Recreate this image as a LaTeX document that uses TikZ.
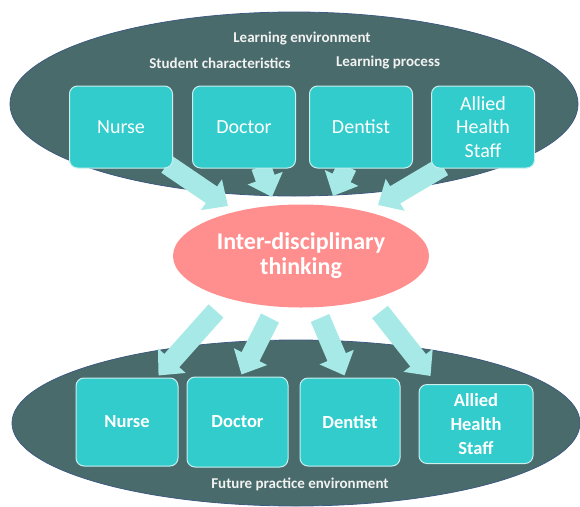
\documentclass[tikz,border=0pt]{standalone}
\usepackage{fontspec}
\setmainfont{Carlito}
\usepackage{xcolor}
\usepackage{tikz}
\usetikzlibrary{shapes,arrows.meta,positioning}

\definecolor{envgray}{HTML}{4A6B6B}
\definecolor{envedge}{HTML}{3D5A80}
\definecolor{boxcyan}{HTML}{33CCCC}
\definecolor{boxedge}{HTML}{C9EFEF}
\definecolor{flowcyan}{HTML}{A6E9E6}
\definecolor{thinkpink}{HTML}{FF8F8F}

\pgfdeclarelayer{backdrop}
\pgfdeclarelayer{flows}
\pgfsetlayers{backdrop,flows,main}

\begin{document}
\begin{tikzpicture}[x=1pt, y=-1pt,
    env/.style={draw=envedge, line width=0.8pt, fill=envgray, ellipse, inner sep=0pt},
    envlabel/.style={text=white!95!black, font=\fontsize{15}{18}\selectfont\bfseries},
    role/.style={draw=boxedge, line width=1pt, fill=boxcyan, rounded corners=8pt, text=white, align=center,
        minimum width=103pt, minimum height=82pt, inner sep=2pt, font=\fontsize{20}{23.5}\selectfont},
    rolebold/.style={role, font=\fontsize{18.5}{24}\selectfont\bfseries},
    flow/.style={draw=flowcyan, line width=20pt, -{Triangle[width=36pt,length=20pt]}}]
    \useasboundingbox (0,0) rectangle (580,506);

    % the two environments
    \begin{pgfonlayer}{backdrop}
        \node [env, minimum width=568pt, minimum height=184pt] (learnenv) at (294,104) {};
        \node [env, minimum width=568pt, minimum height=166pt] (practenv) at (296,423) {};
    \end{pgfonlayer}
    \node [envlabel] (learnlbl) at (302,39) {Learning environment};
    \node [envlabel] (studlbl) at (220,63) {Student characteristics};
    \node [envlabel] (proclbl) at (388,63) {Learning process};
    \node [envlabel] (practlbl) at (300,484) {Future practice environment};

    % professions while learning
    \node [role] (nurse1) at (121,127) {Nurse};
    \node [role, right=19pt of nurse1] (doc1) {Doctor};
    \node [role, right=13pt of doc1] (dent1) {Dentist};
    \node [role, right=18pt of dent1] (allied1) {Allied\\Health\\Staff};

    % centre
    \node [ellipse, fill=thinkpink, text=white, align=center, inner sep=0pt,
        minimum width=256pt, minimum height=103pt,
        font=\fontsize{24}{25}\selectfont\bfseries] (think) at (301,256) {Inter-disciplinary\\thinking};

    % professions in practice
    \node [rolebold, minimum width=102pt, minimum height=88pt] (nurse2) at (127,422) {Nurse};
    \node [rolebold, minimum width=101pt, minimum height=90pt, right=8pt of nurse2] (doc2) {Doctor};
    \node [rolebold, minimum width=100pt, minimum height=88pt, right=11pt of doc2] (dent2) {Dentist};
    \node [rolebold, minimum width=114pt, minimum height=79pt, right=18pt of dent2, yshift=-2pt] (allied2) {Allied\\Health\\Staff};

    \begin{pgfonlayer}{flows}
        \draw [flow] ([shift={(-6,-4)}]nurse1.south east) -- ([shift={(-73,-50)}]think.center);
        \draw [flow] ([shift={(17,-2)}]doc1.south) -- ([shift={(-29,-59)}]think.center);
        \draw [flow] ([shift={(-14,-2)}]dent1.south) -- ([shift={(32,-60)}]think.center);
        \draw [flow] ([shift={(12,-2)}]allied1.south west) -- ([shift={(77,-51)}]think.center);

        \draw [flow] ([shift={(-85,55)}]think.center) -- ([shift={(-20,-2)}]nurse2.north east);
        \draw [flow] ([shift={(-31,62)}]think.center) -- ([shift={(55,-2)}]doc2.north west);
        \draw [flow] ([shift={(19,62)}]think.center) -- ([shift={(45,-2)}]dent2.north west);
        \draw [flow] ([shift={(79,56)}]think.center) -- ([shift={(12,-8)}]allied2.north west);
    \end{pgfonlayer}
\end{tikzpicture}
\end{document}
